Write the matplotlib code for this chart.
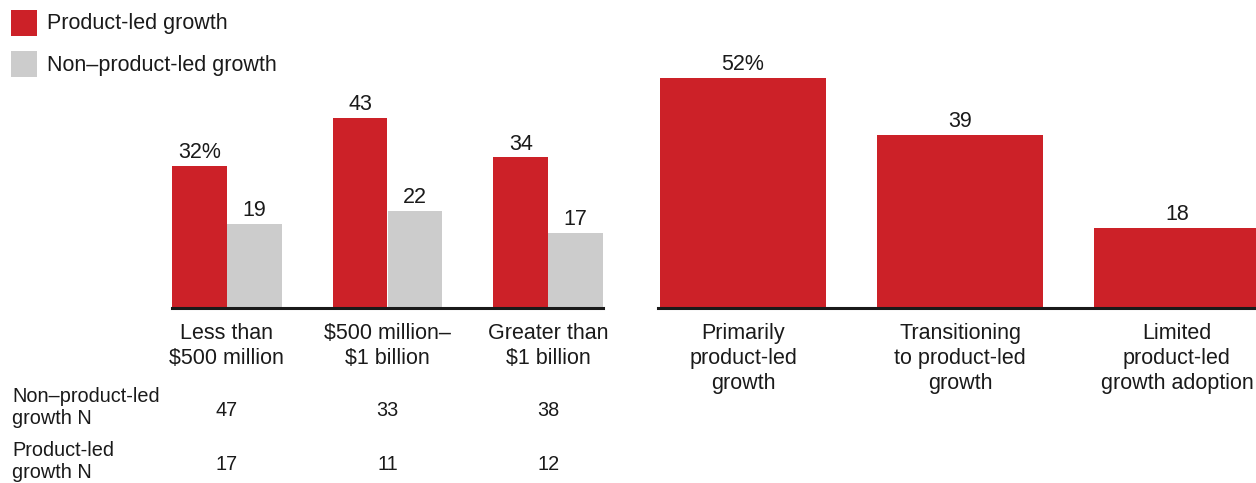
import matplotlib
matplotlib.use("Agg")
import matplotlib.pyplot as plt
import matplotlib.transforms as mtransforms
from matplotlib.patches import Rectangle
import numpy as np

plt.rcParams['font.family'] = ['Liberation Sans', 'DejaVu Sans']

# Revenue-size panel
size_categories = ["Less than\n$500 million", "$500 million–\n$1 billion", "Greater than\n$1 billion"]
plg_share = [32, 43, 34]
non_plg_share = [19, 22, 17]
non_plg_n = [47, 33, 38]
plg_n = [17, 11, 12]

# Adoption-stage panel
stage_categories = ["Primarily\nproduct-led\ngrowth", "Transitioning\nto product-led\ngrowth",
                    "Limited\nproduct-led\ngrowth adoption"]
stage_share = [52, 39, 18]

series_names = ["Product-led growth", "Non–product-led growth"]
table_rows = ["Non–product-led\ngrowth N", "Product-led\ngrowth N"]

RED = "#cc2128"
GREY = "#cccccc"
TEXT = "#1a1a1a"
FS = 15.5
FS_TABLE = 14.3

W, H = 1256, 483
fig = plt.figure(figsize=(W / 100, H / 100), dpi=100)

px_per_unit = 4.43
ymax = 60
base_y = 308
ax_bottom = (H - base_y) / H
ax_height = ymax * px_per_unit / H


def style_axis(ax):
    for s in ("left", "right", "top"):
        ax.spines[s].set_visible(False)
    ax.spines["bottom"].set_linewidth(2.2)
    ax.spines["bottom"].set_color(TEXT)
    ax.set_yticks([])
    ax.set_ylim(0, ymax)
    ax.tick_params(axis="x", length=0, pad=11, labelsize=FS, labelcolor=TEXT)


def pct_labels(values):
    return [f"{v}%" if i == 0 else f"{v}" for i, v in enumerate(values)]


# Left panel: grouped bars
bw = 0.3416
ax1 = fig.add_axes([172 / W, ax_bottom, 431 / W, ax_height])
x = np.arange(len(size_categories))
b_red = ax1.bar(x - bw / 2, plg_share, bw, color=RED, linewidth=0)
b_grey = ax1.bar(x + bw / 2, non_plg_share, bw, color=GREY, linewidth=0)
ax1.bar_label(b_red, labels=pct_labels(plg_share), padding=2, fontsize=FS, color=TEXT)
ax1.bar_label(b_grey, labels=[str(v) for v in non_plg_share], padding=2, fontsize=FS, color=TEXT)
ax1.set_xlim(-bw, len(x) - 1 + bw)
style_axis(ax1)
ax1.set_xticks(x, size_categories, linespacing=1.25)

# Right panel: single series
spacing_px = 217
sw = 166 / spacing_px
ax2 = fig.add_axes([658 / W, ax_bottom, 598 / W, ax_height])
x2 = np.arange(len(stage_categories))
b_stage = ax2.bar(x2, stage_share, sw, color=RED, linewidth=0)
ax2.bar_label(b_stage, labels=pct_labels(stage_share), padding=2, fontsize=FS, color=TEXT)
left = -sw / 2 - 2 / spacing_px
ax2.set_xlim(left, left + 598 / spacing_px)
style_axis(ax2)
ax2.set_xticks(x2, stage_categories, linespacing=1.25)

# Legend
for i, (name, col) in enumerate(zip(series_names, [RED, GREY])):
    top = 10 + i * 41
    fig.patches.append(Rectangle((11 / W, 1 - (top + 26) / H), 26 / W, 26 / H,
                                 transform=fig.transFigure, color=col, linewidth=0))
    fig.text(47 / W, 1 - (top + 14) / H, name, fontsize=FS, color=TEXT, va="center", ha="left")

# Sample-size table
trans = mtransforms.blended_transform_factory(ax1.transData, fig.transFigure)
for r, (row_name, counts) in enumerate(zip(table_rows, [non_plg_n, plg_n])):
    yc = 408 + r * 54
    fig.text(12 / W, 1 - yc / H, row_name, fontsize=FS_TABLE, color=TEXT, va="center", ha="left",
             linespacing=1.2)
    for xi, n in zip(x, counts):
        ax1.text(xi, 1 - (yc + 3) / H, str(n), transform=trans, fontsize=FS_TABLE, color=TEXT,
                 va="center", ha="center")

fig.savefig("out.png", dpi=100)
